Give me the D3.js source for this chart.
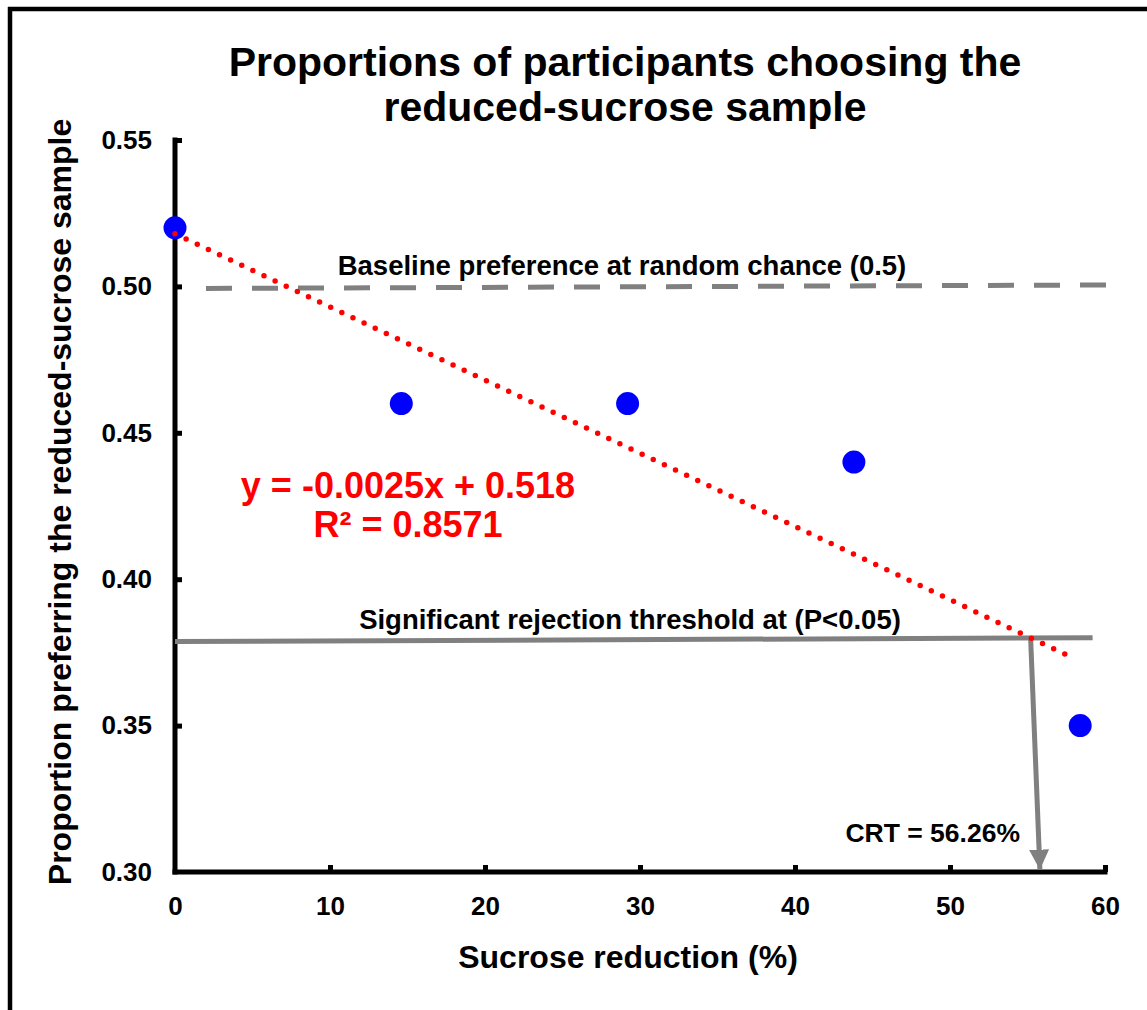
<!DOCTYPE html>
<html>
<head>
<meta charset="utf-8">
<script src="https://cdn.jsdelivr.net/npm/d3@7"></script>
<style>
  body { margin: 0; background: #fff; }
  svg text { font-family: "Liberation Sans", Arial, sans-serif; font-weight: bold; }
</style>
</head>
<body>
<div id="chart"></div>
<script>
// data
const reduction = [0, 14.6, 29.2, 43.8, 58.4];
const proportion = [0.52, 0.46, 0.46, 0.44, 0.35];
const xTicks = [0, 10, 20, 30, 40, 50, 60];
const yTicks = [0.30, 0.35, 0.40, 0.45, 0.50, 0.55];
const slope = -0.0025, intercept = 0.518;
const trendRange = [0, 57.9];
const baselineLine = [[2, 0.4993], [60.3, 0.5005]];
const thresholdLine = [[0, 0.3787], [59.2, 0.3800]];
const crtArrow = [[55.2, 0.3800], [55.8, 0.3008]];

const width = 1147, height = 1010;
const x = d3.scaleLinear().domain([0, 60]).range([175, 1105]);
const y = d3.scaleLinear().domain([0.30, 0.55]).range([872, 140]);

const svg = d3.select("#chart").append("svg")
  .attr("width", width)
  .attr("height", height);

// frame (left and top only visible)
svg.append("line").attr("x1", 10).attr("y1", 7).attr("x2", 10).attr("y2", height)
  .attr("stroke", "#000").attr("stroke-width", 4.5);
svg.append("line").attr("x1", 8).attr("y1", 9).attr("x2", width).attr("y2", 9)
  .attr("stroke", "#000").attr("stroke-width", 4.5);

// title
svg.append("text").attr("x", 625).attr("y", 76).attr("text-anchor", "middle")
  .attr("font-size", "41px").text("Proportions of participants choosing the");
svg.append("text").attr("x", 625).attr("y", 121).attr("text-anchor", "middle")
  .attr("font-size", "41px").text("reduced-sucrose sample");

// axes
const gx = svg.append("g").attr("transform", `translate(0,${y(0.30)})`)
  .call(d3.axisBottom(x).tickValues(xTicks).tickSize(-7).tickPadding(30));
const gy = svg.append("g").attr("transform", `translate(${x(0)},0)`)
  .call(d3.axisLeft(y).tickValues(yTicks).tickFormat(d3.format(".2f")).tickSize(-7).tickPadding(23));
[gx, gy].forEach(g => {
  g.select(".domain").attr("stroke", "#000").attr("stroke-width", 5);
  g.selectAll(".tick line").attr("stroke", "#000").attr("stroke-width", 5);
  g.selectAll(".tick text").attr("fill", "#000").attr("font-size", "26px")
    .attr("font-family", "Liberation Sans, Arial, sans-serif").attr("font-weight", "bold");
});
gx.selectAll(".tick text").attr("dy", "0.5em");
gx.select(".domain").attr("d", `M${x(0) - 2.5},0H${x(60) + 2.5}`);
gy.select(".domain").attr("d", `M0,${y(0.30) + 2.5}V${y(0.55) - 2.5}`);
gx.selectAll(".tick").filter(d => d === 0).select("line").remove();
gy.selectAll(".tick").filter(d => d === 0.30).select("line").remove();

// axis titles
svg.append("text").attr("x", 628).attr("y", 968).attr("text-anchor", "middle")
  .attr("font-size", "32px").text("Sucrose reduction (%)");
svg.append("text").attr("transform", "translate(71,502) rotate(-90)").attr("text-anchor", "middle")
  .attr("font-size", "32px").text("Proportion preferring the reduced-sucrose sample");

const line = d3.line().x(d => x(d[0])).y(d => y(d[1]));

// baseline at chance
svg.append("path").attr("d", line(baselineLine))
  .attr("fill", "none").attr("stroke", "#808080").attr("stroke-width", 5)
  .attr("stroke-dasharray", "26,20");
svg.append("text").attr("x", 622).attr("y", 275).attr("text-anchor", "middle")
  .attr("font-size", "27.5px").text("Baseline preference at random chance (0.5)");

// threshold line
svg.append("path").attr("d", line(thresholdLine))
  .attr("fill", "none").attr("stroke", "#808080").attr("stroke-width", 5);
svg.append("text").attr("x", 630).attr("y", 629).attr("text-anchor", "middle")
  .attr("font-size", "27.5px").text("Significant rejection threshold at (P<0.05)");

// CRT arrow
svg.append("defs").append("marker")
  .attr("id", "arrow").attr("viewBox", "0 0 10 10").attr("refX", 10).attr("refY", 5)
  .attr("markerWidth", 20).attr("markerHeight", 20).attr("markerUnits", "userSpaceOnUse")
  .attr("orient", "auto")
  .append("path").attr("d", "M0,0L10,5L0,10Z").attr("fill", "#808080");
svg.append("path").attr("d", line(crtArrow))
  .attr("fill", "none").attr("stroke", "#808080").attr("stroke-width", 5)
  .attr("marker-end", "url(#arrow)");
svg.append("text").attr("x", 1020).attr("y", 842).attr("text-anchor", "end")
  .attr("font-size", "26.5px").text("CRT = 56.26%");

// points
svg.selectAll(".pt").data(reduction).enter().append("circle")
  .attr("class", "pt")
  .attr("cx", d => x(d))
  .attr("cy", (d, i) => y(proportion[i]))
  .attr("r", 11.5)
  .attr("fill", "#0000ff");

// trendline (dotted red)
svg.append("path")
  .attr("d", line(trendRange.map(v => [v, slope * v + intercept])))
  .attr("fill", "none").attr("stroke", "#ff0000").attr("stroke-width", 5.5)
  .attr("stroke-linecap", "round").attr("stroke-dasharray", "0,12.3");

// equation
svg.append("text").attr("x", 408).attr("y", 498).attr("text-anchor", "middle")
  .attr("fill", "#ff0000").attr("font-size", "36px").text("y = -0.0025x + 0.518");
svg.append("text").attr("x", 408).attr("y", 537).attr("text-anchor", "middle")
  .attr("fill", "#ff0000").attr("font-size", "36px").text("R² = 0.8571");
</script>
</body>
</html>
